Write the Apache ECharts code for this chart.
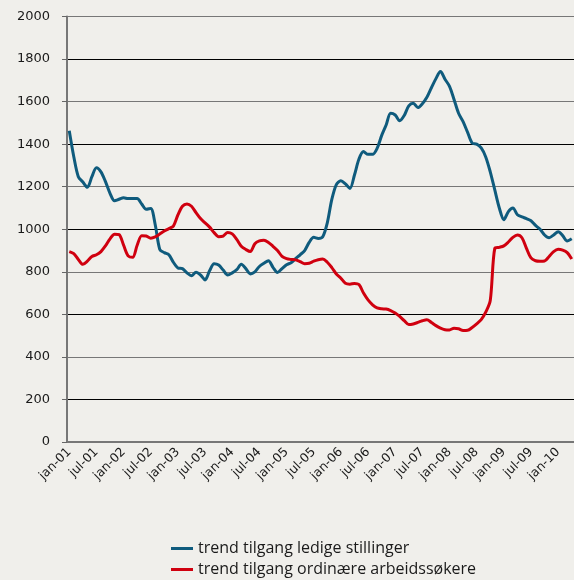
<!DOCTYPE html>
<html><head><meta charset="utf-8">
<script src="https://cdn.jsdelivr.net/npm/echarts@6/dist/echarts.min.js"></script>
<style>html,body{margin:0;padding:0;background:#f0efeb;}#c{width:574px;height:580px;}</style>
</head><body><div id="c"></div>
<script>
const monthNames = ['jan','feb','mar','apr','mai','jun','jul','aug','sep','okt','nov','des'];
const years = ['01','02','03','04','05','06','07','08','09','10'];
const monthCount = 112;
const yTicks = [0,200,400,600,800,1000,1200,1400,1600,1800,2000];
const seriesNames = ['trend tilgang ledige stillinger','trend tilgang ordinære arbeidssøkere'];
const ledige = [1463,1341,1247,1222,1197,1247,1289,1270,1224,1169,1134,1141,1148,1144,1144,1144,1119,1094,1098,1020,
905,890,880,845,818,815,795,782,798,785,762,805,838,832,808,785,795,810,835,815,
790,800,825,840,852,821,797,815,833,843,862,880,900,938,962,957,965,1030,1140,1210,
1228,1213,1192,1255,1330,1365,1352,1352,1380,1440,1490,1545,1537,1510,1535,1580,1592,1572,1590,1620,
1665,1708,1741,1705,1672,1610,1545,1506,1455,1405,1400,1382,1340,1270,1185,1100,1045,1083,1100,1068,
1058,1050,1040,1018,1000,973,960,973,988,970,945,955];
const arbeidssokere = [895,885,858,835,850,872,880,895,922,955,977,975,925,875,868,925,970,968,958,964,
978,992,1003,1015,1067,1108,1119,1108,1078,1050,1030,1010,984,965,968,985,978,952,920,905,
895,932,945,948,938,920,900,873,862,858,856,848,838,840,850,857,860,845,820,790,
770,746,742,745,740,700,668,645,630,626,625,618,606,590,570,552,555,562,570,575,
562,547,535,528,527,535,532,524,525,538,555,575,610,665,910,915,922,940,962,973,
960,910,865,852,850,851,872,895,906,902,890,860];

const categories = [];
for (let i = 0; i < monthCount; i++) {
  categories.push(monthNames[i % 12] + '-' + years[Math.floor(i / 12)]);
}

const chart = echarts.init(document.getElementById('c'), null, {renderer:'canvas'});
chart.setOption({
  backgroundColor: '#f0efeb',
  animation: false,
  grid: {left: 67, right: 0, top: 16.5, bottom: 138},
  legend: {
    orient: 'vertical', left: 171, top: 540, itemGap: 4, padding: 0,
    itemWidth: 22, itemHeight: 3, icon: 'rect',
    textStyle: {fontFamily: 'Open Sans', fontSize: 16, lineHeight: 17, color: '#1a1a1a'},
    data: seriesNames
  },
  xAxis: {
    type: 'category', data: categories, boundaryGap: true,
    axisLine: {lineStyle: {color: '#777', width: 2}},
    axisTick: {interval: 5, length: 4, lineStyle: {color: '#666', width: 1}},
    axisLabel: {interval: 5, rotate: 45, margin: 8, fontFamily: 'DejaVu Sans', fontSize: 12.5, color: '#1a1a1a'},
    splitLine: {show: false}
  },
  yAxis: {
    type: 'value', min: yTicks[0], max: yTicks[yTicks.length-1], interval: 200,
    axisLine: {show: true, lineStyle: {color: '#777', width: 2}},
    axisTick: {show: true, length: 5, lineStyle: {color: '#666'}},
    axisLabel: {margin: 17, fontFamily: 'DejaVu Sans', fontSize: 13, color: '#1a1a1a', formatter: function(v){ return String(v); }},
    splitLine: {show: true, lineStyle: {color: ['#777', '#000'], width: 1}}
  },
  series: [
    {name: seriesNames[0], type: 'line', data: ledige, showSymbol: false, smooth: 0.3,
     lineStyle: {color: '#0f5b7d', width: 3}, itemStyle: {color: '#0f5b7d'}},
    {name: seriesNames[1], type: 'line', data: arbeidssokere, showSymbol: false, smooth: 0.3,
     lineStyle: {color: '#d0000f', width: 3}, itemStyle: {color: '#d0000f'}}
  ]
});
</script>
</body></html>
